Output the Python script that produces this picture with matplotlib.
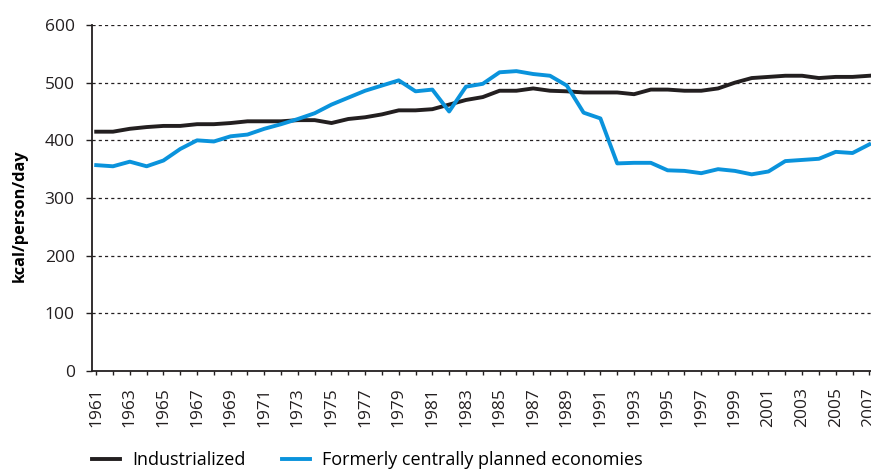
import matplotlib.pyplot as plt
from matplotlib.ticker import MultipleLocator

plt.rcParams['font.family'] = ['Open Sans', 'DejaVu Sans']

years = list(range(1961, 2008))
industrialized = [415, 415, 420, 423, 425, 425, 428, 428, 430, 433,
                  433, 433, 435, 435, 430, 437, 440, 445, 452, 452,
                  454, 462, 470, 475, 486, 486, 490, 486, 485, 483,
                  483, 483, 480, 488, 488, 486, 486, 490, 500, 508,
                  510, 512, 512, 508, 510, 510, 512]
planned = [357, 355, 363, 355, 365, 385, 400, 398, 407, 410,
           420, 428, 437, 447, 462, 474, 486, 495, 504, 485,
           488, 450, 493, 498, 518, 520, 515, 512, 495, 448,
           438, 360, 361, 361, 348, 347, 343, 350, 347, 341,
           346, 364, 366, 368, 380, 378, 393]

fig = plt.figure(figsize=(8.71, 4.70), dpi=100)
ax = fig.add_axes([92 / 871, 1 - 371 / 470, 779 / 871, 346 / 470])

ax.plot(years, industrialized, color='#231f20', lw=2.8, label='Industrialized',
        solid_joinstyle='round', zorder=3)
ax.plot(years, planned, color='#0a93dc', lw=2.8,
        label='Formerly centrally planned economies',
        solid_joinstyle='round', zorder=3)

ax.set_xlim(1960.75, 2007.1)
ax.set_ylim(0, 600)
ax.yaxis.set_major_locator(MultipleLocator(100))
ax.set_xticks(years[::2])
ax.set_xticklabels([str(y) for y in years[::2]], rotation=90)
ax.xaxis.set_minor_locator(MultipleLocator(1))

for v in range(100, 601, 100):
    ax.axhline(v, color='#231f20', lw=0.9, ls=(0, (2.5, 2.5)), zorder=1)

for s in ['top', 'right']:
    ax.spines[s].set_visible(False)
for s in ['left', 'bottom']:
    ax.spines[s].set_linewidth(1.3)
    ax.spines[s].set_color('#231f20')

ax.tick_params(axis='y', length=4.5, width=1, labelsize=12.5, pad=8, colors='#231f20')
ax.tick_params(axis='x', which='both', length=3, width=1, labelsize=12.5, pad=8.5,
               colors='#231f20')
ax.set_ylabel('kcal/person/day', fontsize=11.8, fontweight='bold')
ax.yaxis.set_label_coords(-0.082, 0.45)

fig.legend(loc='center left', bbox_to_anchor=(92 / 871, 1 - 460 / 470), ncol=2,
           frameon=False, fontsize=13, handlelength=1.55, columnspacing=2.0,
           handletextpad=0.67, borderaxespad=0, borderpad=0)

fig.savefig('out.png', dpi=100)
